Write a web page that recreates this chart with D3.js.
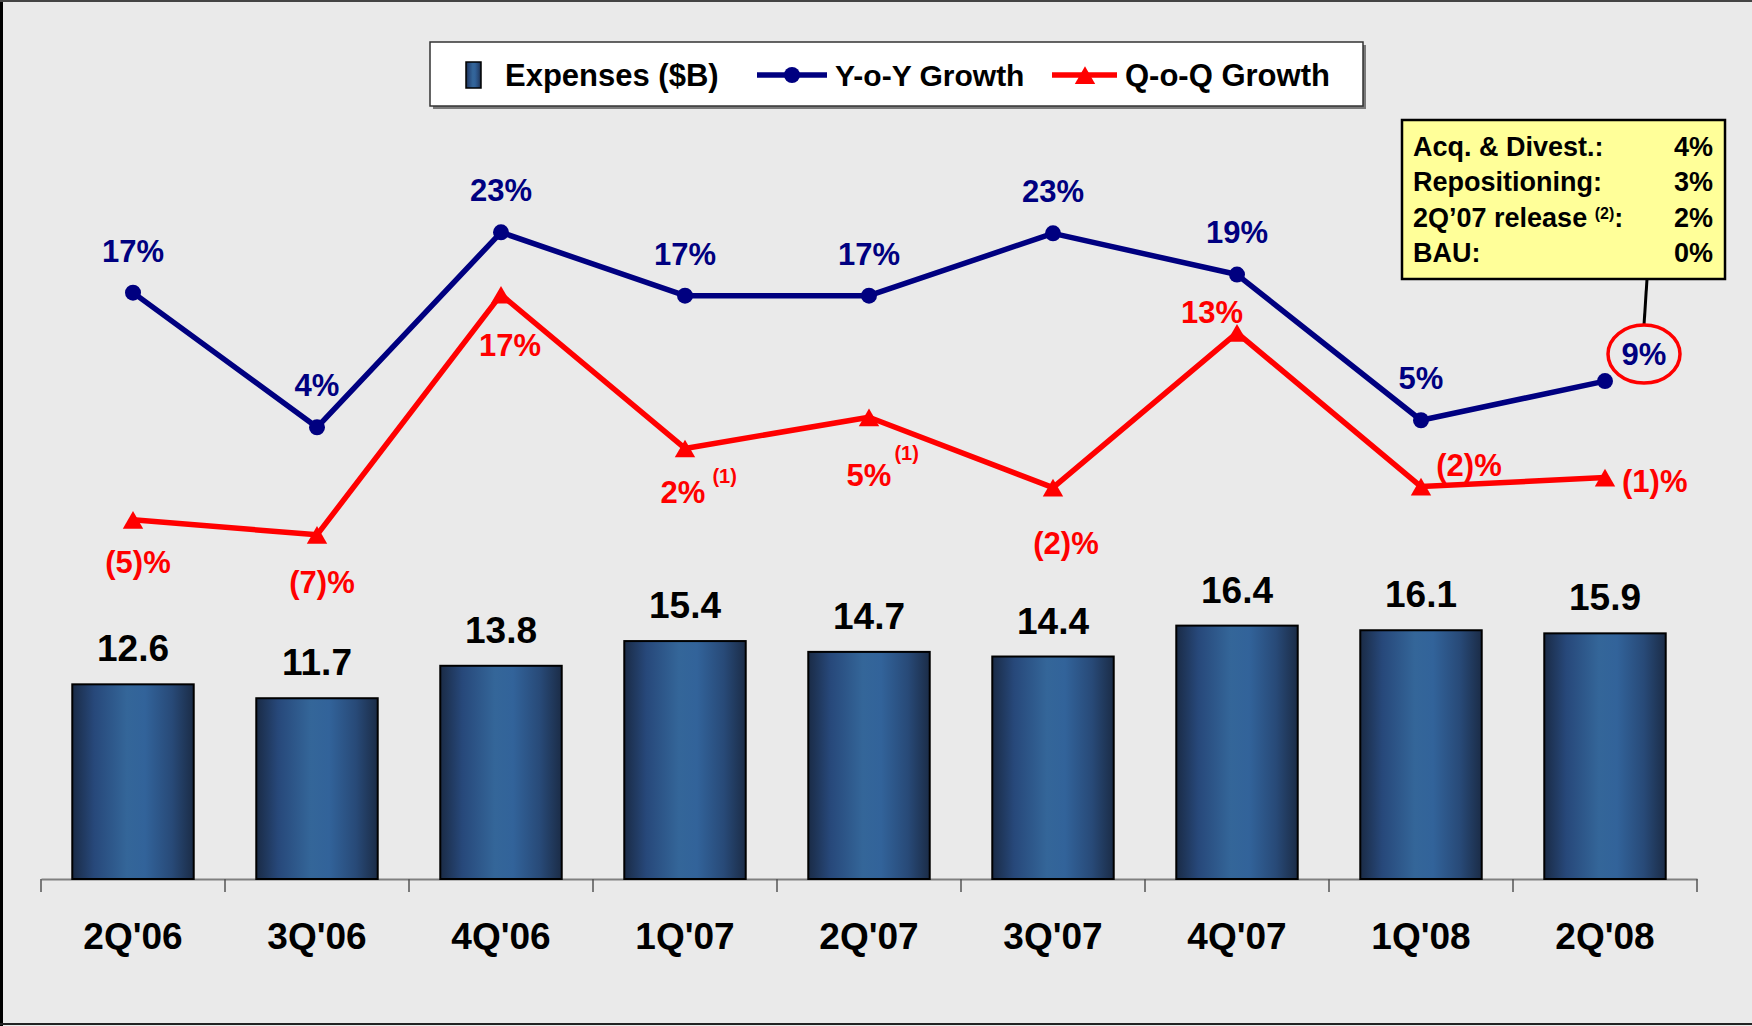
<!DOCTYPE html>
<html>
<head>
<meta charset="utf-8">
<script src="https://cdn.jsdelivr.net/npm/d3@7"></script>
<style>
  html, body { margin: 0; padding: 0; background: #eaeaea; }
  svg { display: block; font-family: "Liberation Sans", Arial, sans-serif; font-weight: bold; }
</style>
</head>
<body>
<div id="chart"></div>
<script>
// Expenses bars with Y-o-Y / Q-o-Q growth lines

const quarters = ["2Q'06", "3Q'06", "4Q'06", "1Q'07", "2Q'07", "3Q'07", "4Q'07", "1Q'08", "2Q'08"];
const expenses = [12.6, 11.7, 13.8, 15.4, 14.7, 14.4, 16.4, 16.1, 15.9];
const yoyGrowth = [17.2, 3.8, 23.2, 16.9, 16.9, 23.1, 19.0, 4.5, 8.4];
const qoqGrowth = [-5.4, -6.9, 17.0, 1.7, 4.8, -2.2, 13.2, -2.1, -1.2];
const yoyLabels = ["17%", "4%", "23%", "17%", "17%", "23%", "19%", "5%", "9%"];
const qoqLabels = ["(5)%", "(7)%", "17%", "2%", "5%", "(2)%", "13%", "(2)%", "(1)%"];
const qoqNotes = ["", "", "", "(1)", "(1)", "", "", "", ""];
const bridgeLabels = ["Acq. & Divest.", "Repositioning", "2Q\u201907 release", "BAU"];
const bridgeNotes = ["", "", "(2)", ""];
const bridgeValues = ["4%", "3%", "2%", "0%"];

// label placement (offsets from the point, text baseline)
const yoyLabelPos = [[0, -31], [0, -31], [0, -31], [0, -31], [0, -31], [0, -31], [0, -32], [0, -31], [39, -16]];
const qoqLabelPos = [[5, 53], [5, 58], [9, 61], [-2, 55], [0, 69], [13, 66], [-25, -10], [48, -11], [17, 14, "start"]];
const qoqNotePos = [null, null, null, [7, -20], [3, -26], null, null, null, null];

const width = 1752;
const height = 1026;
const navy = "#000080";
const red = "#ff0000";

const svg = d3.select("#chart")
    .append("svg")
    .attr("width", width)
    .attr("height", height);

svg.append("rect")
    .attr("width", width)
    .attr("height", height)
    .attr("fill", "#eaeaea");

// frame
svg.append("line").attr("x1", 1.5).attr("x2", 1.5).attr("y1", 0).attr("y2", height)
    .attr("stroke", "#000").attr("stroke-width", 3);
svg.append("line").attr("x1", 0).attr("x2", width).attr("y1", 1).attr("y2", 1)
    .attr("stroke", "#444").attr("stroke-width", 2);
svg.append("line").attr("x1", 0).attr("x2", width).attr("y1", 1024).attr("y2", 1024)
    .attr("stroke", "#222").attr("stroke-width", 2);

const defs = svg.append("defs");
const grad = defs.append("linearGradient")
    .attr("id", "barGrad")
    .attr("x1", "0%").attr("x2", "100%").attr("y1", "0%").attr("y2", "0%");
[[0, "#1a2b46"], [18, "#27487a"], [45, "#346699"], [60, "#32639a"], [82, "#284a78"], [100, "#1b2c47"]]
    .forEach(s => grad.append("stop").attr("offset", s[0] + "%").attr("stop-color", s[1]));

const xScale = d3.scaleBand()
    .domain(quarters)
    .range([41, 1697]);

const yBar = d3.scaleLinear()
    .domain([0, 20])
    .range([879, 570]);

const yPct = d3.scaleLinear()
    .domain([-10, 25])
    .range([566, 214.25]);

const cx = d => xScale(d) + xScale.bandwidth() / 2;
const barW = xScale.bandwidth() * 0.66;

// axis
const xAxis = d3.axisBottom(xScale).tickSize(0).tickFormat("");
const axisG = svg.append("g")
    .attr("transform", `translate(0, 879)`)
    .call(xAxis);
axisG.select(".domain").attr("stroke", "#808080").attr("stroke-width", 2);

svg.append("g")
    .selectAll("line")
    .data(d3.range(quarters.length + 1))
    .join("line")
    .attr("x1", i => xScale.range()[0] + i * xScale.bandwidth())
    .attr("x2", i => xScale.range()[0] + i * xScale.bandwidth())
    .attr("y1", 879)
    .attr("y2", 892)
    .attr("stroke", "#555")
    .attr("stroke-width", 1.5);

// bars
svg.append("g")
    .selectAll("rect")
    .data(expenses)
    .join("rect")
    .attr("x", (d, i) => cx(quarters[i]) - barW / 2)
    .attr("y", d => yBar(d))
    .attr("width", barW)
    .attr("height", d => yBar(0) - yBar(d))
    .attr("fill", "url(#barGrad)")
    .attr("stroke", "#000")
    .attr("stroke-width", 2);

svg.append("g")
    .selectAll("text")
    .data(expenses)
    .join("text")
    .attr("x", (d, i) => cx(quarters[i]))
    .attr("y", d => yBar(d) - 23)
    .attr("text-anchor", "middle")
    .attr("font-size", 37)
    .attr("fill", "#000")
    .text(d => d.toFixed(1));

svg.append("g")
    .selectAll("text")
    .data(quarters)
    .join("text")
    .attr("x", d => cx(d))
    .attr("y", 949)
    .attr("text-anchor", "middle")
    .attr("font-size", 37)
    .attr("fill", "#000")
    .text(d => d);

// lines
const pctLine = d3.line()
    .x((d, i) => cx(quarters[i]))
    .y(d => yPct(d));

svg.append("path")
    .datum(qoqGrowth)
    .attr("fill", "none")
    .attr("stroke", red)
    .attr("stroke-width", 5.5)
    .attr("stroke-linejoin", "round")
    .attr("d", pctLine);

svg.append("path")
    .datum(yoyGrowth)
    .attr("fill", "none")
    .attr("stroke", navy)
    .attr("stroke-width", 5.5)
    .attr("stroke-linejoin", "round")
    .attr("d", pctLine);

const tri = d3.symbol().type(d3.symbolTriangle).size(180);

svg.append("g")
    .selectAll("path")
    .data(qoqGrowth)
    .join("path")
    .attr("d", tri)
    .attr("transform", (d, i) => `translate(${cx(quarters[i])}, ${yPct(d) + 3})`)
    .attr("fill", red);

svg.append("g")
    .selectAll("circle")
    .data(yoyGrowth)
    .join("circle")
    .attr("cx", (d, i) => cx(quarters[i]))
    .attr("cy", d => yPct(d))
    .attr("r", 8)
    .attr("fill", navy);

// line labels
svg.append("g")
    .selectAll("text")
    .data(yoyGrowth)
    .join("text")
    .attr("x", (d, i) => cx(quarters[i]) + yoyLabelPos[i][0])
    .attr("y", (d, i) => yPct(d) + yoyLabelPos[i][1])
    .attr("text-anchor", "middle")
    .attr("font-size", 31)
    .attr("fill", navy)
    .text((d, i) => yoyLabels[i]);

const qoqText = svg.append("g")
    .selectAll("text")
    .data(qoqGrowth)
    .join("text")
    .attr("x", (d, i) => cx(quarters[i]) + qoqLabelPos[i][0])
    .attr("y", (d, i) => yPct(d) + qoqLabelPos[i][1])
    .attr("text-anchor", (d, i) => qoqLabelPos[i][2] || "middle")
    .attr("font-size", 31)
    .attr("fill", red)
    .text((d, i) => qoqLabels[i]);

// footnote marks beside the Q-o-Q labels
svg.append("g")
    .selectAll("text")
    .data(qoqGrowth.map((d, i) => i).filter(i => qoqNotes[i]))
    .join("text")
    .attr("x", i => {
        const bb = qoqText.nodes()[i].getBBox();
        return bb.x + bb.width + qoqNotePos[i][0];
    })
    .attr("y", i => yPct(qoqGrowth[i]) + qoqLabelPos[i][1] + qoqNotePos[i][1])
    .attr("font-size", 20)
    .attr("fill", red)
    .text(i => qoqNotes[i]);

// highlight on the latest Y-o-Y value + bridge box
const last = yoyGrowth.length - 1;
const hx = cx(quarters[last]) + yoyLabelPos[last][0];
const hy = yPct(yoyGrowth[last]) + yoyLabelPos[last][1] - 11;

svg.append("line")
    .attr("x1", hx + 3).attr("y1", 279)
    .attr("x2", hx).attr("y2", hy - 29)
    .attr("stroke", "#000")
    .attr("stroke-width", 3);

svg.append("ellipse")
    .attr("cx", hx)
    .attr("cy", hy)
    .attr("rx", 36)
    .attr("ry", 29)
    .attr("fill", "none")
    .attr("stroke", red)
    .attr("stroke-width", 3.5);

const box = svg.append("g");
box.append("rect")
    .attr("x", 1402)
    .attr("y", 120)
    .attr("width", 323)
    .attr("height", 159)
    .attr("fill", "#ffff99")
    .attr("stroke", "#000")
    .attr("stroke-width", 2.5);

bridgeLabels.forEach((label, i) => {
    const y = 156 + i * 35.3;
    const t = box.append("text")
        .attr("x", 1413)
        .attr("y", y)
        .attr("font-size", 27)
        .attr("fill", "#000");
    t.append("tspan").text(label + (bridgeNotes[i] ? " " : ""));
    if (bridgeNotes[i]) {
        t.append("tspan").attr("font-size", 16).attr("dy", -8).text(bridgeNotes[i]);
        t.append("tspan").attr("dy", 8).text(":");
    } else {
        t.append("tspan").text(":");
    }
    box.append("text")
        .attr("x", 1713)
        .attr("y", y)
        .attr("text-anchor", "end")
        .attr("font-size", 27)
        .attr("fill", "#000")
        .text(bridgeValues[i]);
});

// legend
const legend = svg.append("g");
legend.append("rect")
    .attr("x", 433).attr("y", 45).attr("width", 933).attr("height", 64)
    .attr("fill", "#7a7a7a");
legend.append("rect")
    .attr("x", 430).attr("y", 42).attr("width", 933).attr("height", 64)
    .attr("fill", "#fff")
    .attr("stroke", "#333")
    .attr("stroke-width", 1.5);

legend.append("rect")
    .attr("x", 466).attr("y", 62).attr("width", 15).attr("height", 26)
    .attr("fill", "url(#barGrad)")
    .attr("stroke", "#000")
    .attr("stroke-width", 1.5);
legend.append("text").attr("x", 505).attr("y", 86).attr("font-size", 31).text("Expenses ($B)");

legend.append("line").attr("x1", 757).attr("x2", 827).attr("y1", 75).attr("y2", 75)
    .attr("stroke", navy).attr("stroke-width", 5.5);
legend.append("circle").attr("cx", 792).attr("cy", 75).attr("r", 8).attr("fill", navy);
legend.append("text").attr("x", 835).attr("y", 86).attr("font-size", 30).text("Y-o-Y Growth");

legend.append("line").attr("x1", 1052).attr("x2", 1117).attr("y1", 75).attr("y2", 75)
    .attr("stroke", red).attr("stroke-width", 5.5);
legend.append("path").attr("d", tri).attr("transform", "translate(1085, 78)").attr("fill", red);
legend.append("text").attr("x", 1125).attr("y", 86).attr("font-size", 31).text("Q-o-Q Growth");
</script>
</body>
</html>
